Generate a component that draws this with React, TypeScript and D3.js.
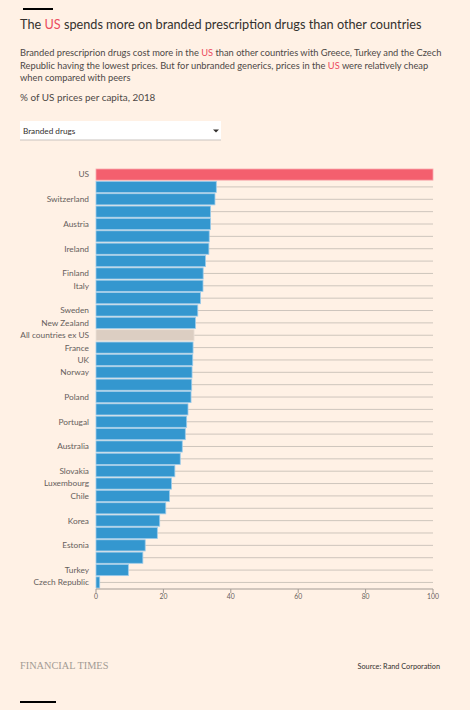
import React from "react";
import * as d3 from "d3";

const labels: string[] = [
  "US", "", "Switzerland", "", "Austria", "", "Ireland", "", "Finland", "Italy", "",
  "Sweden", "New Zealand", "All countries ex US", "France", "UK", "Norway", "", "Poland", "",
  "Portugal", "", "Australia", "", "Slovakia", "Luxembourg", "Chile", "", "Korea", "",
  "Estonia", "", "Turkey", "Czech Republic",
];
const values: number[] = [
  100, 35.7, 35.3, 34.0, 34.0, 33.6, 33.5, 32.5, 31.8, 31.75, 31.0,
  30.2, 29.5, 29.1, 28.8, 28.7, 28.5, 28.4, 28.2, 27.3,
  26.9, 26.5, 25.6, 25.0, 23.4, 22.4, 21.8, 20.7, 18.9, 18.2,
  14.6, 13.9, 9.6, 1.1,
];
const kinds: string[] = labels.map((l) => (l === "US" ? "us" : l === "All countries ex US" ? "avg" : "c"));
const xTicks: number[] = [0, 20, 40, 60, 80, 100];

const FONT = "Lato, 'Noto Sans', sans-serif";
const BG = "#fff1e5";

export default function App() {
  const x = d3.scaleLinear().domain([0, 100]).range([96, 433]);
  const idx = labels.map((_, i) => i);
  const y = d3.scaleBand<number>().domain(idx).range([169, 588]).paddingInner(0.1).paddingOuter(0.0);
  const bw = y.bandwidth();
  const fill = (k: string) => (k === "us" ? "#f45f6e" : k === "avg" ? "#dccec2" : "#3497cf");
  const stroke = (k: string) => (k === "us" ? "#f7a9ae" : k === "avg" ? "#ece2d8" : "#9ccbea");
  const axisY = 589;

  return (
    <div style={{ position: "absolute", left: 0, top: 0 }}>
      <svg width={470} height={710} style={{ display: "block", background: BG }} fontFamily={FONT}>
        <rect x={0} y={0} width={470} height={710} fill={BG} />
        <rect x={23} y={8} width={30} height={2} fill="#000" />
        <text x={20} y={29} fontSize={12.7} fill="#33302e">
          The <tspan fill="#eb4b5e">US</tspan> spends more on branded prescription drugs than other countries
        </text>
        <g fontSize={9.3} fill="#4d4845">
          <text x={20} y={56}>
            Branded prescriprion drugs cost more in the <tspan fill="#eb4b5e">US</tspan> than other countries with Greece, Turkey and the Czech
          </text>
          <text x={20} y={69}>
            Republic having the lowest prices. But for unbranded generics, prices in the <tspan fill="#eb4b5e">US</tspan> were relatively cheap
          </text>
          <text x={20} y={81}>when compared with peers</text>
        </g>
        <text x={20} y={101} fontSize={9.9} fill="#4d4845">% of US prices per capita, 2018</text>

        <rect x={20} y={121} width={201} height={19} fill="#fff" />
        <rect x={20} y={139.5} width={201} height={1} fill="#c9c4c0" />
        <text x={23} y={134} fontSize={8.2} fill="#33302e">Branded drugs</text>
        <path d="M213,129.5 L219,129.5 L216,132.5 Z" fill="#33302e" />

        <g>
          {idx.map((i) => (
            <line key={"g" + i} x1={x(0)} x2={x(100)} y1={(y(i) as number) + bw / 2} y2={(y(i) as number) + bw / 2}
              stroke="#cec5bc" strokeWidth={1} />
          ))}
        </g>
        <g>
          {idx.map((i) => (
            <rect key={"b" + i} x={x(0)} y={y(i) as number} width={x(values[i]) - x(0)} height={bw}
              fill={fill(kinds[i])} stroke={stroke(kinds[i])} strokeWidth={0.8} />
          ))}
        </g>
        <g fontSize={8.3} fill="#66605c" textAnchor="end">
          {idx.map((i) => (
            <text key={"l" + i} x={89} y={(y(i) as number) + bw / 2 + 2.9}>{labels[i]}</text>
          ))}
        </g>
        <line x1={x(0)} x2={x(100)} y1={axisY} y2={axisY} stroke="#a39b94" strokeWidth={1} />
        <g fontSize={6.8} fill="#66605c" textAnchor="middle">
          {xTicks.map((t) => (
            <g key={"t" + t}>
              <line x1={x(t)} x2={x(t)} y1={axisY} y2={axisY + 4} stroke="#a39b94" />
              <text x={x(t)} y={axisY + 10}>{t}</text>
            </g>
          ))}
        </g>

        <text x={20} y={669} fontSize={10.3} fill="#a39b94" fontFamily="'Liberation Serif', 'DejaVu Serif', serif">FINANCIAL TIMES</text>
        <text x={440} y={669} fontSize={7.3} fill="#33302e" textAnchor="end">Source: Rand Corporation</text>
        <rect x={20} y={701} width={36} height={2} fill="#000" />
      </svg>
    </div>
  );
}
